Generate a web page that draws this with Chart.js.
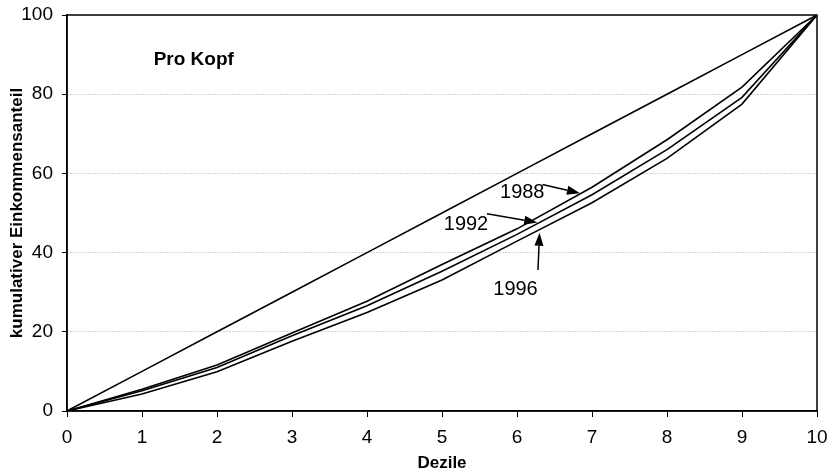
<!DOCTYPE html>
<html>
<head>
<meta charset="utf-8">
<script src="https://cdn.jsdelivr.net/npm/chart.js@4/dist/chart.umd.min.js"></script>
<style>
  html, body { margin: 0; padding: 0; background: #fff; }
  #wrap { width: 830px; height: 473px; position: relative; }
</style>
</head>
<body>
<div id="wrap"><canvas id="c" width="830" height="473"></canvas></div>
<script>
// ---- data ----
const deciles   = [0, 1, 2, 3, 4, 5, 6, 7, 8, 9, 10];
const equality  = [0, 10, 20, 30, 40, 50, 60, 70, 80, 90, 100];
const share1988 = [0, 5.5, 11.6, 19.7, 27.7, 37.0, 46.0, 56.5, 68.5, 81.8, 100];
const share1992 = [0, 5.1, 11.0, 19.0, 26.6, 35.3, 44.6, 54.6, 66.0, 79.2, 100];
const share1996 = [0, 4.3, 9.9, 17.6, 24.9, 33.1, 42.9, 52.6, 63.8, 77.5, 100];
const yTicks    = [0, 20, 40, 60, 80, 100];
const seriesNames = ['Gleichverteilung', '1988', '1992', '1996'];

const chartTitle = 'Pro Kopf';
const xTitle = 'Dezile';
const yTitle = 'kumulativer Einkommensanteil';

// annotation labels with arrows (in data coordinates)
const notes = [
  { text: '1988', tx: 6.07, ty: 55.3, fx: 6.34, fy: 57.2, ax: 6.84, ay: 55.0 },
  { text: '1992', tx: 5.32, ty: 47.2, fx: 5.60, fy: 49.8, ax: 6.27, ay: 47.6 },
  { text: '1996', tx: 5.98, ty: 30.6, fx: 6.28, fy: 35.6, ax: 6.30, ay: 45.0 }
];
const titlePos = { x: 1.69, y: 88.8 };

const toXY = arr => deciles.map((d, i) => ({ x: d, y: arr[i] }));

const FONT = '"Liberation Sans", Arial, sans-serif';

const framePlugin = {
  id: 'frame',
  afterDatasetsDraw(chart) {
    const { ctx, chartArea: a, scales: { x, y } } = chart;
    ctx.save();
    ctx.setLineDash([]);
    ctx.strokeStyle = '#000';
    ctx.lineWidth = 1.5;
    ctx.strokeRect(a.left, a.top, a.right - a.left, a.bottom - a.top);

    // chart title inside plot
    ctx.fillStyle = '#000';
    ctx.font = 'bold 19px ' + FONT;
    ctx.textAlign = 'center';
    ctx.textBaseline = 'middle';
    ctx.fillText(chartTitle, x.getPixelForValue(titlePos.x), y.getPixelForValue(titlePos.y));

    // annotations
    ctx.font = '20px ' + FONT;
    notes.forEach(n => {
      ctx.fillText(n.text, x.getPixelForValue(n.tx), y.getPixelForValue(n.ty));
      const x1 = x.getPixelForValue(n.fx), y1 = y.getPixelForValue(n.fy);
      const x2 = x.getPixelForValue(n.ax), y2 = y.getPixelForValue(n.ay);
      const ang = Math.atan2(y2 - y1, x2 - x1);
      const hl = 13, hw = 4.5;
      const bx = x2 - hl * Math.cos(ang), by = y2 - hl * Math.sin(ang);
      ctx.lineWidth = 1.5;
      ctx.beginPath();
      ctx.moveTo(x1, y1);
      ctx.lineTo(bx, by);
      ctx.stroke();
      ctx.beginPath();
      ctx.moveTo(x2, y2);
      ctx.lineTo(bx + hw * Math.sin(ang), by - hw * Math.cos(ang));
      ctx.lineTo(bx - hw * Math.sin(ang), by + hw * Math.cos(ang));
      ctx.closePath();
      ctx.fill();
    });
    ctx.restore();
  }
};

const lineStyle = { borderColor: '#000', borderWidth: 1.6, pointRadius: 0, tension: 0, fill: false };

new Chart(document.getElementById('c'), {
  type: 'line',
  data: {
    datasets: [
      Object.assign({ label: seriesNames[0], data: toXY(equality) }, lineStyle),
      Object.assign({ label: seriesNames[1], data: toXY(share1988) }, lineStyle),
      Object.assign({ label: seriesNames[2], data: toXY(share1992) }, lineStyle),
      Object.assign({ label: seriesNames[3], data: toXY(share1996) }, lineStyle)
    ]
  },
  options: {
    responsive: false,
    animation: false,
    events: [],
    layout: { padding: { top: 15, right: 13, left: 0, bottom: 0 } },
    plugins: { legend: { display: false }, tooltip: { enabled: false }, title: { display: false } },
    scales: {
      x: {
        type: 'linear',
        min: 0, max: 10,
        afterBuildTicks: s => { s.ticks = deciles.map(v => ({ value: v })); },
        afterFit: s => { s.height = 62; s.paddingLeft = 0; s.paddingRight = 0; },
        ticks: { color: '#000', font: { family: FONT, size: 19 }, padding: 9, maxRotation: 0 },
        grid: { drawOnChartArea: false, drawTicks: true, tickLength: 6, tickColor: '#000', tickWidth: 1 },
        border: { color: '#000', width: 1.5 },
        title: { display: true, text: xTitle, color: '#000', font: { family: FONT, size: 17, weight: 'bold' }, padding: { top: 0, bottom: -1 } }
      },
      y: {
        min: 0, max: 100,
        afterBuildTicks: s => { s.ticks = yTicks.map(v => ({ value: v })); },
        afterFit: s => { s.width = 67; s.paddingTop = 0; s.paddingBottom = 0; },
        ticks: { color: '#000', font: { family: FONT, size: 19 }, padding: 9 },
        grid: {
          color: c => (c.tick && (c.tick.value === 0 || c.tick.value === 100)) ? 'rgba(0,0,0,0)' : '#a8a8a8',
          lineWidth: 1,
          drawTicks: true,
          tickLength: 5,
          tickColor: '#000',
          tickBorderDash: []
        },
        border: { color: '#000', width: 1.5, dash: [1, 2] },
        title: { display: true, text: yTitle, color: '#000', font: { family: FONT, size: 17, weight: 'bold' }, padding: { top: 7, bottom: 0 } }
      }
    }
  },
  plugins: [framePlugin]
});
</script>
</body>
</html>
